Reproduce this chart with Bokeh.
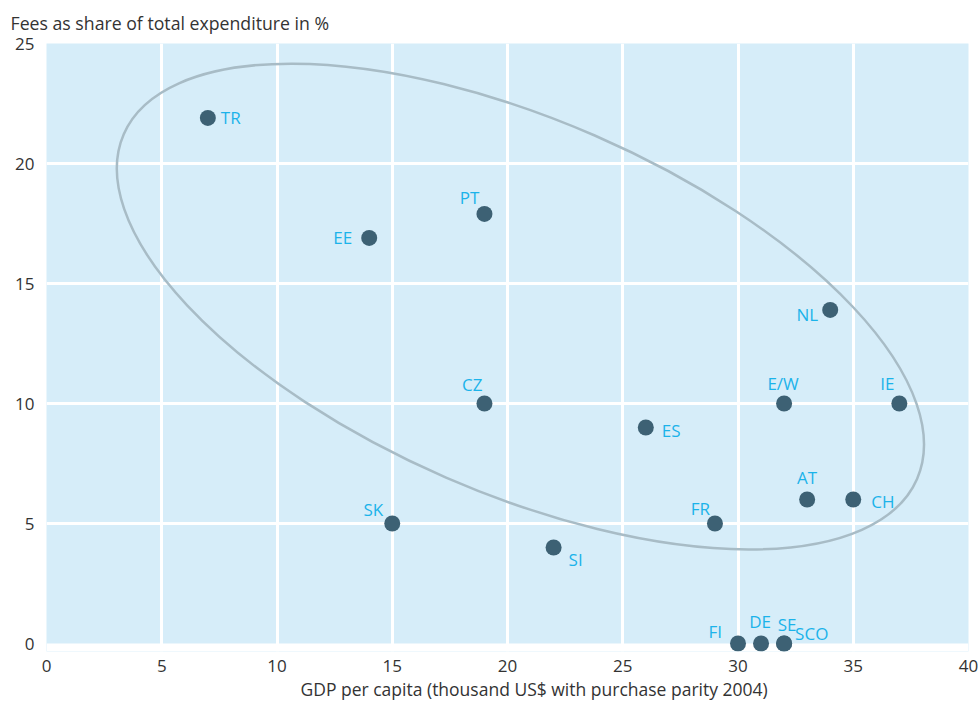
from bokeh.plotting import figure
from bokeh.models import ColumnDataSource, Range1d, FixedTicker, BoxAnnotation, Title
from bokeh.core.properties import value
from bokeh.embed import file_html
from bokeh.resources import INLINE

# ---- data ----
countries = ["TR", "EE", "PT", "NL", "CZ", "E/W", "IE", "ES", "AT", "CH",
             "FR", "SK", "SI", "FI", "DE", "SE", "SCO"]
gdp = [7, 14, 19, 34, 19, 32, 37, 26, 33, 35, 29, 15, 22, 30, 31, 32, 32]
fees = [21.9, 16.9, 17.9, 13.9, 10, 10, 10, 9, 6, 6, 5, 5, 4, 0, 0, 0, 0]
x_ticks = [0, 5, 10, 15, 20, 25, 30, 35, 40]
y_ticks = [0, 5, 10, 15, 20, 25]
x_title = "GDP per capita (thousand US$ with purchase parity 2004)"
y_title = "Fees as share of total expenditure in %"

# ellipse (cluster outline) parameters
ell_cx, ell_cy = 20.56, 14.04

# ---- label placement (style) ----
lab_align = ["left", "right", "right", "right", "right", "center", "center", "left", "center", "left",
             "right", "right", "left", "right", "center", "center", "left"]
lab_dx = [13, -17, -5, -12, -2, -1, -12, 16, 0, 18, -5, -9, 15, -16, -1, 3, 11]
lab_dy = [0, 0, -16, 5, -19, -20, -20, 3, -22, 2, -15, -14, 12, -12, -22, -19, -10]

FONT = "Open Sans"
BG = "#d6edf9"
DOT = "#3d6174"
LAB = "#1bb3ea"
TXT = "#333333"

p = figure(width=978, height=704, frame_width=922, frame_height=608,
           x_range=Range1d(0, 40), y_range=Range1d(-1/3, 25),
           output_backend="svg", toolbar_location=None,
           min_border_left=46, min_border_top=43, min_border_right=10, min_border_bottom=53,
           title=y_title)
p.background_fill_color = BG
p.border_fill_color = "white"
p.outline_line_color = None

p.title.text_font = FONT
p.title.text_font_size = "17.7px"
p.title.text_font_style = "normal"
p.title.text_color = TXT
p.title.align = "left"
p.title.offset = -36
p.title.standoff = 17

for ax in (p.xaxis[0], p.yaxis[0]):
    ax.axis_line_color = None
    ax.major_tick_line_color = None
    ax.minor_tick_line_color = None
    ax.major_tick_out = 0
    ax.major_tick_in = 0
    ax.minor_tick_out = 0
    ax.major_label_text_font = FONT
    ax.major_label_text_font_size = "17px"
    ax.major_label_text_color = TXT

p.xaxis.ticker = FixedTicker(ticks=x_ticks)
p.yaxis.ticker = FixedTicker(ticks=y_ticks)
p.xaxis.major_label_standoff = 8
p.yaxis.major_label_standoff = 12

# x-axis title, placed off-centre like the reference
p.add_layout(Title(text=x_title, align="left", offset=254, text_font=FONT,
                   text_font_size="17.5px", text_font_style="normal", text_color=TXT,
                   standoff=0), "below")

p.xgrid.ticker = FixedTicker(ticks=[t for t in x_ticks if 0 < t < 40])
p.ygrid.ticker = FixedTicker(ticks=[t for t in y_ticks if 0 < t < 25])
p.grid.grid_line_color = "white"
p.grid.grid_line_width = 3

# white strip below zero so the zero-line dots are not clipped
p.add_layout(BoxAnnotation(top=0, fill_color="white", fill_alpha=1.0,
                           line_color=None, level="underlay"))

p.ellipse(x=[ell_cx], y=[ell_cy], width=865, height=373, angle=-0.41,
          width_units="screen", height_units="screen",
          fill_color=None, line_color="#a8bcc6", line_width=2.5)

src = ColumnDataSource(dict(x=gdp, y=fees, name=countries, align=lab_align,
                            dx=lab_dx, dy=lab_dy))
p.scatter(x="x", y="y", source=src, size=16, fill_color=DOT, line_color=None)
p.text(x="x", y="y", text="name", source=src, x_offset="dx", y_offset="dy",
       text_align="align", text_baseline="middle",
       text_font=value(FONT), text_font_size="17px", text_color=LAB)

open("out.html", "w").write(file_html(p, INLINE))
